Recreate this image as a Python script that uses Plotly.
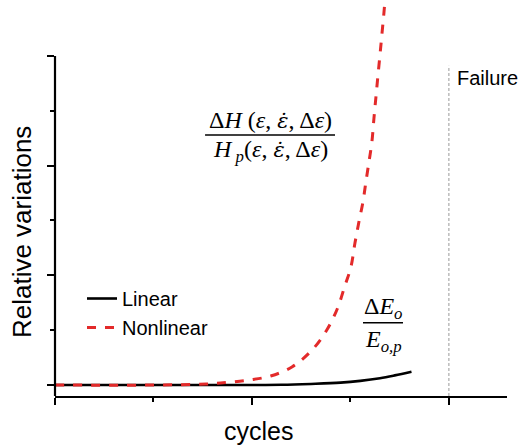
import plotly.graph_objects as go

# ---- data (arbitrary units) ----
linear_x = [0.0, 1.0, 2.0, 2.3, 2.6, 2.9, 3.1, 3.3, 3.45, 3.62]
linear_y = [0.0, 0.0, 0.0, 0.002, 0.01, 0.022, 0.038, 0.062, 0.088, 0.122]

nonlinear_x = [0.0, 1.0, 1.54, 1.76, 1.97, 2.19, 2.41, 2.61, 2.76, 2.87, 2.94,
               3.005, 3.046, 3.086, 3.127, 3.157, 3.188, 3.218, 3.239, 3.259,
               3.279, 3.30, 3.32, 3.34, 3.36]
nonlinear_y = [0.0, 0.0, 0.009, 0.025, 0.046, 0.082, 0.167, 0.319, 0.501, 0.702, 0.894,
               1.076, 1.294, 1.486, 1.669, 1.851, 2.033, 2.215, 2.434, 2.625,
               2.817, 3.008, 3.20, 3.39, 3.62]

failure_cycle = 4.0
failure_top = 2.91

x_major = [0, 2, 4]
x_minor = [1, 3]
y_major = [0, 1, 2, 3]
y_minor = [0.5, 1.5, 2.5]

x_range = [0, 4.59]
y_range = [-0.1, 3.51]

SANS = "Liberation Sans, Arial, sans-serif"
SERIF = "Liberation Serif, Times New Roman, serif"
EPSDOT = "<span style='font-family:DejaVu Serif;font-size:21px'><i>ε̇</i></span>"

fig = go.Figure()
fig.add_trace(go.Scatter(x=linear_x, y=linear_y, mode="lines", name="Linear",
                         line=dict(color="black", width=2.6, shape="spline")))
fig.add_trace(go.Scatter(x=nonlinear_x, y=nonlinear_y, mode="lines", name="Nonlinear",
                         line=dict(color="#E32A2A", width=3, dash="9px,9px", shape="spline")))

# failure line
fig.add_shape(type="line", xref="x", yref="y", x0=failure_cycle, x1=failure_cycle,
              y0=y_range[0], y1=failure_top,
              line=dict(color="#999999", width=1, dash="3px,2px"))
# y axis line (stops at top tick)
fig.add_shape(type="line", xref="paper", yref="y", x0=0, x1=0,
              y0=y_range[0], y1=y_major[-1], line=dict(color="black", width=2.2))

# fraction bars
fig.add_shape(type="line", xref="paper", yref="paper", x0=0.332, x1=0.6195,
              y0=0.659, y1=0.659, line=dict(color="black", width=1.5))
fig.add_shape(type="line", xref="paper", yref="paper", x0=0.6814, x1=0.7699,
              y0=0.1851, y1=0.1851, line=dict(color="black", width=1.5))

ann = []
ann.append(dict(text="Δ<i>H</i> (<i>ε</i>, " + EPSDOT + ", Δ<i>ε</i>)", x=0.4757, y=0.697,
                font=dict(family=SERIF, size=24, color="black")))
ann.append(dict(text="<i>H</i><sub> <i>p</i></sub>(<i>ε</i>, " + EPSDOT + ", Δ<i>ε</i>)",
                x=0.4757, y=0.6187, font=dict(family=SERIF, size=24, color="black")))
ann.append(dict(text="Δ<i>E</i><sub><i>o</i></sub>", x=0.7257, y=0.2222,
                font=dict(family=SERIF, size=24, color="black")))
ann.append(dict(text="<i>E</i><sub><i>o,p</i></sub>", x=0.7257, y=0.1389,
                font=dict(family=SERIF, size=24, color="black")))
ann.append(dict(text="Failure", x=(455 - 55) / 452, y=(396 - 77.7) / 396, xanchor="left",
                font=dict(family=SANS, size=20, color="black")))
ann.append(dict(text="cycles", x=0.4507, y=-0.0884,
                font=dict(family=SANS, size=25, color="black")))
ann.append(dict(text="Relative variations", x=-0.073, y=0.414, textangle=-90,
                font=dict(family=SANS, size=26, color="black")))
for a in ann:
    a.setdefault("xanchor", "center")
    a.update(xref="paper", yref="paper", showarrow=False, yanchor="middle")
fig.update_layout(annotations=ann)

fig.update_layout(
    width=529, height=447,
    margin=dict(l=55, r=22, t=0, b=51),
    plot_bgcolor="white", paper_bgcolor="white",
    showlegend=True,
    legend=dict(x=(82 - 55) / 452, y=(396 - 279) / 396, xanchor="left", yanchor="top",
                bgcolor="rgba(0,0,0,0)", font=dict(family=SANS, size=20, color="black"),
                tracegroupgap=0, borderwidth=0),
    xaxis=dict(range=x_range, showgrid=False, zeroline=False, showline=True,
               linecolor="black", linewidth=2.2, ticks="outside", tickvals=x_major,
               ticklen=7, tickwidth=2, tickcolor="black", showticklabels=False,
               minor=dict(tickvals=x_minor, ticks="outside", ticklen=4, tickwidth=2,
                          tickcolor="black")),
    yaxis=dict(range=y_range, showgrid=False, zeroline=False, showline=False,
               ticks="outside", tickvals=y_major,
               ticklen=7, tickwidth=2, tickcolor="black", showticklabels=False,
               minor=dict(tickvals=y_minor, ticks="outside", ticklen=4, tickwidth=2,
                          tickcolor="black")),
)

fig.write_html("out.html")
